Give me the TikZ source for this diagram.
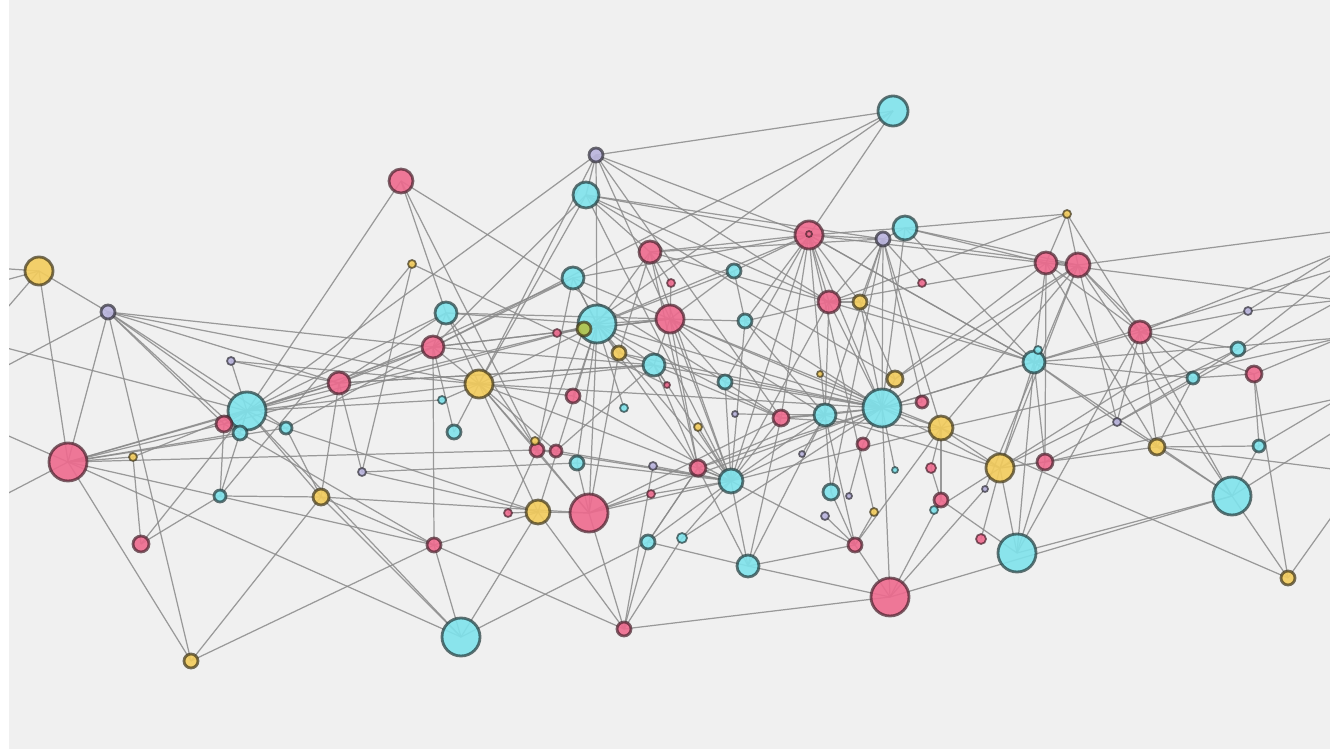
\documentclass[tikz,border=0pt]{standalone}
\usetikzlibrary{backgrounds}
\definecolor{pinkfill}{HTML}{EE6A8E}
\definecolor{cyanfill}{HTML}{7FE3EC}
\definecolor{yellfill}{HTML}{F3CC5C}
\definecolor{lavfill}{HTML}{BAB5DE}
\definecolor{olivefill}{HTML}{B5C24A}
\definecolor{edgecol}{HTML}{8A8A8A}
\definecolor{bgcol}{HTML}{F0F0F0}
\begin{document}
\begin{tikzpicture}[x=0.01cm, y=-0.01cm,
  dot/.style={circle, inner sep=0pt, minimum size=#1, line width=0.8pt, fill opacity=0.9, draw opacity=0.7},
  pk/.style={dot=#1, fill=pinkfill, draw=pinkfill!30!black},
  cy/.style={dot=#1, fill=cyanfill, draw=cyanfill!25!black},
  ye/.style={dot=#1, fill=yellfill, draw=yellfill!25!black},
  lv/.style={dot=#1, fill=lavfill, draw=lavfill!25!black},
  sm/.style={line width=0.5pt},
  edge/.style={draw=edgecol, line width=0.35pt, opacity=0.85}]
\useasboundingbox (0,0) rectangle (1330,749);
% cyan nodes
\node[cy=3.0mm] (c1) at (893,111) {};
\node[cy=2.6mm] (c2) at (586,195) {};
\node[cy=2.4mm] (c3) at (905,228) {};
\node[cy=2.2mm] (c4) at (573,278) {};
\node[cy=1.4mm] (c5) at (734,271) {};
\node[cy=2.2mm] (c6) at (446,313) {};
\node[cy=3.8mm] (c7) at (597,324) {};
\node[cy=1.4mm] (c8) at (745,321) {};
\node[cy=2.2mm] (c9) at (1034,362) {};
\node[cy=1.4mm] (c10) at (1238,349) {};
\node[cy=1.2mm] (c11) at (1193,378) {};
\node[cy=2.2mm] (c12) at (654,365) {};
\node[cy=1.4mm] (c13) at (725,382) {};
\node[cy=3.8mm] (c14) at (882,408) {};
\node[cy=3.8mm] (c15) at (247,411) {};
\node[cy=1.4mm] (c16) at (240,433) {};
\node[cy=1.2mm] (c17) at (286,428) {};
\node[cy=0.8mm, sm] (c18) at (442,400) {};
\node[cy=0.8mm, sm] (c19) at (624,408) {};
\node[cy=2.2mm] (c20) at (825,415) {};
\node[cy=1.2mm] (c21) at (1259,446) {};
\node[cy=1.4mm] (c22) at (454,432) {};
\node[cy=1.4mm] (c23) at (577,463) {};
\node[cy=2.4mm] (c24) at (731,481) {};
\node[cy=0.6mm, sm] (c25) at (895,470) {};
\node[cy=1.2mm] (c26) at (220,496) {};
\node[cy=1.6mm] (c27) at (831,492) {};
\node[cy=0.8mm, sm] (c28) at (934,510) {};
\node[cy=3.8mm] (c29) at (1232,496) {};
\node[cy=1.4mm] (c30) at (648,542) {};
\node[cy=1.0mm, sm] (c31) at (682,538) {};
\node[cy=2.2mm] (c32) at (748,566) {};
\node[cy=3.8mm] (c33) at (1017,553) {};
\node[cy=3.8mm] (c34) at (461,637) {};
\node[cy=0.8mm, sm] (c35) at (1038,350) {};
% pink nodes
\node[pk=2.4mm] (p1) at (401,181) {};
\node[pk=2.8mm] (p2) at (809,235) {};
\node[pk=2.2mm] (p3) at (1046,263) {};
\node[pk=2.4mm] (p4) at (1078,265) {};
\node[pk=2.2mm] (p5) at (650,252) {};
\node[pk=0.8mm, sm] (p6) at (671,283) {};
\node[pk=0.8mm, sm] (p7) at (922,283) {};
\node[pk=2.8mm] (p8) at (670,319) {};
\node[pk=0.8mm, sm] (p9) at (557,333) {};
\node[pk=2.2mm] (p10) at (829,302) {};
\node[pk=2.2mm] (p11) at (1140,332) {};
\node[pk=1.6mm] (p12) at (1254,374) {};
\node[pk=2.2mm] (p13) at (433,347) {};
\node[pk=2.2mm] (p14) at (339,383) {};
\node[pk=1.2mm] (p15) at (922,402) {};
\node[pk=1.6mm] (p16) at (224,424) {};
\node[pk=1.4mm] (p17) at (573,396) {};
\node[pk=1.6mm] (p18) at (781,418) {};
\node[pk=3.8mm] (p19) at (68,462) {};
\node[pk=1.4mm] (p20) at (537,450) {};
\node[pk=1.2mm] (p21) at (556,451) {};
\node[pk=1.6mm] (p22) at (698,468) {};
\node[pk=1.2mm] (p23) at (863,444) {};
\node[pk=1.6mm] (p24) at (1045,462) {};
\node[pk=1.0mm, sm] (p25) at (931,468) {};
\node[pk=1.4mm] (p26) at (941,500) {};
\node[pk=0.8mm, sm] (p27) at (651,494) {};
\node[pk=0.8mm, sm] (p28) at (508,513) {};
\node[pk=3.8mm] (p29) at (589,513) {};
\node[pk=1.0mm, sm] (p30) at (981,539) {};
\node[pk=1.6mm] (p31) at (141,544) {};
\node[pk=1.4mm] (p32) at (434,545) {};
\node[pk=1.4mm] (p33) at (855,545) {};
\node[pk=3.8mm] (p34) at (890,597) {};
\node[pk=1.4mm] (p35) at (624,629) {};
\node[pk=0.6mm, sm] (p36) at (667,385) {};
\node[pk=0.6mm, sm] (p37) at (809,234) {};
% yellow nodes
\node[ye=0.8mm, sm] (y1) at (1067,214) {};
\node[ye=2.8mm] (y2) at (39,271) {};
\node[ye=0.8mm, sm] (y3) at (412,264) {};
\node[ye=1.4mm, fill=olivefill] (y4) at (584,329) {};
\node[ye=1.4mm] (y5) at (860,302) {};
\node[ye=1.4mm] (y6) at (619,353) {};
\node[ye=2.8mm] (y7) at (479,384) {};
\node[ye=1.6mm] (y8) at (895,379) {};
\node[ye=2.4mm] (y9) at (941,428) {};
\node[ye=1.6mm] (y10) at (1157,447) {};
\node[ye=0.8mm, sm] (y11) at (133,457) {};
\node[ye=0.8mm, sm] (y12) at (535,441) {};
\node[ye=0.8mm, sm] (y13) at (698,427) {};
\node[ye=2.8mm] (y14) at (1000,468) {};
\node[ye=1.6mm] (y15) at (321,497) {};
\node[ye=0.8mm, sm] (y16) at (874,512) {};
\node[ye=2.4mm] (y17) at (538,512) {};
\node[ye=1.4mm] (y18) at (1288,578) {};
\node[ye=1.4mm] (y19) at (191,661) {};
\node[ye=0.6mm, sm] (y20) at (820,374) {};
% lavender nodes
\node[lv=1.4mm] (l1) at (596,155) {};
\node[lv=1.4mm] (l2) at (883,239) {};
\node[lv=1.4mm] (l3) at (108,312) {};
\node[lv=0.8mm, sm] (l4) at (1248,311) {};
\node[lv=0.8mm, sm] (l5) at (231,361) {};
\node[lv=0.8mm, sm] (l6) at (1117,422) {};
\node[lv=0.8mm, sm] (l7) at (362,472) {};
\node[lv=0.8mm, sm] (l8) at (653,466) {};
\node[lv=0.6mm, sm] (l9) at (735,414) {};
\node[lv=0.6mm, sm] (l10) at (802,454) {};
\node[lv=0.6mm, sm] (l11) at (849,496) {};
\node[lv=0.8mm, sm] (l12) at (825,516) {};
\node[lv=0.6mm, sm] (l13) at (985,489) {};
% free ends off the sides
\coordinate (lA) at (-5,268); \coordinate (lB) at (-5,283);
\coordinate (lC) at (-5,322); \coordinate (lD) at (-5,345);
\coordinate (lE) at (-5,372); \coordinate (lF) at (-5,430);
\coordinate (lG) at (-5,500);
\coordinate (rA) at (1340,231); \coordinate (rB) at (1340,252);
\coordinate (rC) at (1340,268); \coordinate (rD) at (1340,300);
\coordinate (rE) at (1340,338); \coordinate (rF) at (1340,398);
\coordinate (rG) at (1340,428); \coordinate (rH) at (1340,470);
\coordinate (rI) at (1340,505);
\begin{pgfonlayer}{background}
\fill[bgcol] (0,0) rectangle (1330,749);
% connectors
\foreach \b in {l1,p2,y4,p13} \draw[edge] (c1.center) -- (\b.center);
\foreach \b in {c2,c7,c15,y7,p2,p10,p8,p18} \draw[edge] (l1.center) -- (\b.center);
\foreach \b in {p13,p2,l2,y8,c24,p5,p10,y7} \draw[edge] (c2.center) -- (\b.center);
\foreach \b in {c15,c6,p20,c13} \draw[edge] (p1.center) -- (\b.center);
\foreach \b in {c26,l7,p36} \draw[edge] (y3.center) -- (\b.center);
\foreach \b in {p13,c7,p20,p14,p8} \draw[edge] (c4.center) -- (\b.center);
\foreach \b in {c7,y6,p2,c24,p6,l2,p22} \draw[edge] (p5.center) -- (\b.center);
\foreach \b in {p2,p8,c8,c7} \draw[edge] (c5.center) -- (\b.center);
\foreach \b in {p8,p2,c20,c24,p10,c14} \draw[edge] (c8.center) -- (\b.center);
\foreach \b in {c7,c12,p22,c24,p13,c14,p9,p6,c20,y9} \draw[edge] (p8.center) -- (\b.center);
\foreach \b in {c3,l2,p10,y5,c20,p18,c24,y16,c14,p3,c4,y4,c13,c9} \draw[edge] (p2.center) -- (\b.center);
\foreach \b in {c3,c14,y5,p10,p4,p15,y9,c27,p7,c20} \draw[edge] (l2.center) -- (\b.center);
\foreach \b in {p3,c9,p4,y1,c14} \draw[edge] (c3.center) -- (\b.center);
\foreach \b in {y5,c14,c20,c24,p5,c9,p3} \draw[edge] (p10.center) -- (\b.center);
\foreach \b in {y8,c9,c14} \draw[edge] (y5.center) -- (\b.center);
\foreach \b in {c4,y4,c6,y7,y6,p29,c12,c14,p18,c23,p16,c15,p17,c19,p9,p22,c24} \draw[edge] (c7.center) -- (\b.center);
\draw[edge] (y4.center) -- (p20.center);
\foreach \b in {c12,p29,c14} \draw[edge] (y6.center) -- (\b.center);
\foreach \b in {c24,p14,p18,y7,p36,c14,p22} \draw[edge] (c12.center) -- (\b.center);
\foreach \b in {p18,c24,p8,c14} \draw[edge] (c13.center) -- (\b.center);
\foreach \b in {y12,p21,c6,y7,p29,p19,p28,c24} \draw[edge] (p20.center) -- (\b.center);
\foreach \b in {y7,c24,c12} \draw[edge] (p21.center) -- (\b.center);
\foreach \b in {p29,l7,c24} \draw[edge] (c23.center) -- (\b.center);
\foreach \b in {c24,p35} \draw[edge] (l8.center) -- (\b.center);
\foreach \b in {c24,c30,c32,c14,c20} \draw[edge] (p22.center) -- (\b.center);
\draw[edge] (y13.center) -- (c24.center);
\draw[edge] (l9.center) -- (c20.center);
\foreach \b in {c24,p29} \draw[edge] (p27.center) -- (\b.center);
\draw[edge] (p17.center) -- (c24.center);
\foreach \b in {c14,c20,p18,c32,c30,c31,p33,y7,p29,y9} \draw[edge] (c24.center) -- (\b.center);
\foreach \b in {c20,p29,c32,c14,y9} \draw[edge] (p18.center) -- (\b.center);
\foreach \b in {c14,p33,c32,c27,l10,y14} \draw[edge] (c20.center) -- (\b.center);
\draw[edge] (y20.center) -- (c14.center);
\foreach \b in {y8,p15,y9,p23,p34,y14,p4,c31,rC,c9} \draw[edge] (c14.center) -- (\b.center);
\foreach \b in {p3,p4} \draw[edge] (y8.center) -- (\b.center);
\foreach \b in {p26,y14,y18,p4,p33,p25,rE} \draw[edge] (y9.center) -- (\b.center);
\draw[edge] (p23.center) -- (l11.center);
\draw[edge] (c25.center) -- (c14.center);
\draw[edge] (c27.center) -- (p33.center);
\foreach \b in {p34,c33,p25} \draw[edge] (p26.center) -- (\b.center);
\draw[edge] (y16.center) -- (p33.center);
\draw[edge] (c28.center) -- (y14.center);
\draw[edge] (l12.center) -- (p33.center);
\draw[edge] (p30.center) -- (y14.center);
\foreach \b in {p34,p4} \draw[edge] (l13.center) -- (\b.center);
\draw[edge] (c35.center) -- (c9.center);
\draw[edge] (p37.center) -- (p2.center);
% left side
\foreach \b in {lA,lB,lC,l3,p19} \draw[edge] (y2.center) -- (\b.center);
\foreach \b in {p19,lE,c15,p16,c17,y7,p14,p13,y19,c16} \draw[edge] (l3.center) -- (\b.center);
\foreach \b in {lF,lG,c15,p16,c16,p14,y19,p32,c17,c34} \draw[edge] (p19.center) -- (\b.center);
\foreach \b in {p31,c15,p19} \draw[edge] (y11.center) -- (\b.center);
\foreach \b in {p31,c15,y15,p16} \draw[edge] (c26.center) -- (\b.center);
\draw[edge] (p31.center) -- (c15.center);
\foreach \b in {y15,p32} \draw[edge] (y19.center) -- (\b.center);
\foreach \b in {c15,p14,p32,c34,c17,p29} \draw[edge] (y15.center) -- (\b.center);
\foreach \b in {p14,p13,y7,c17,p16,c16,l5,c34,c6,lD} \draw[edge] (c15.center) -- (\b.center);
\foreach \b in {p16,p32} \draw[edge] (c16.center) -- (\b.center);
\foreach \b in {y7,p14} \draw[edge] (l5.center) -- (\b.center);
\foreach \b in {p13,y17} \draw[edge] (c17.center) -- (\b.center);
\foreach \b in {c6,p13,l7,c12} \draw[edge] (p14.center) -- (\b.center);
\draw[edge] (l7.center) -- (y17.center);
\foreach \b in {p32,c6,y7,p8,c12} \draw[edge] (p13.center) -- (\b.center);
\foreach \b in {y7,p8} \draw[edge] (c6.center) -- (\b.center);
\foreach \b in {p29,c22,c18,p17,c14} \draw[edge] (y7.center) -- (\b.center);
\draw[edge] (c18.center) -- (c15.center);
\draw[edge] (c22.center) -- (p13.center);
\foreach \b in {c34,y17,p35} \draw[edge] (p32.center) -- (\b.center);
\foreach \b in {y17,c30} \draw[edge] (c34.center) -- (\b.center);
\foreach \b in {p35,p29,c7,p28,y7} \draw[edge] (y17.center) -- (\b.center);
\foreach \b in {p35,c14} \draw[edge] (p29.center) -- (\b.center);
\foreach \b in {c30,c31,p34} \draw[edge] (p35.center) -- (\b.center);
\foreach \b in {p22,c32} \draw[edge] (c30.center) -- (\b.center);
\foreach \b in {p34,p33} \draw[edge] (c32.center) -- (\b.center);
\foreach \b in {p33,c29} \draw[edge] (p34.center) -- (\b.center);
% right side
\foreach \b in {y14,p24,c29,c9,p11} \draw[edge] (c33.center) -- (\b.center);
\foreach \b in {y18,y10,p11,c9,rG,c21} \draw[edge] (c29.center) -- (\b.center);
\foreach \b in {rI,p12} \draw[edge] (y18.center) -- (\b.center);
\foreach \b in {p12,rF,y10} \draw[edge] (c21.center) -- (\b.center);
\foreach \b in {rE,c11,p11} \draw[edge] (p12.center) -- (\b.center);
\foreach \b in {rC,c11,p11,y14} \draw[edge] (c10.center) -- (\b.center);
\foreach \b in {rD,p11} \draw[edge] (l4.center) -- (\b.center);
\foreach \b in {l6,y10,c9,p4} \draw[edge] (c11.center) -- (\b.center);
\foreach \b in {p4,y10,c9,rB,l6,p3} \draw[edge] (p11.center) -- (\b.center);
\foreach \b in {p3,l6,y14,rH} \draw[edge] (y10.center) -- (\b.center);
\foreach \b in {p4,c9} \draw[edge] (l6.center) -- (\b.center);
\foreach \b in {p24,y14,p3,p2,rE} \draw[edge] (c9.center) -- (\b.center);
\foreach \b in {y14,p3,rF,rD} \draw[edge] (p24.center) -- (\b.center);
\foreach \b in {p4,rB} \draw[edge] (y14.center) -- (\b.center);
\foreach \b in {rA,y1,p3,c29} \draw[edge] (p4.center) -- (\b.center);
\foreach \b in {y1,rD} \draw[edge] (p3.center) -- (\b.center);
\foreach \b in {p11,p10} \draw[edge] (y1.center) -- (\b.center);
\end{pgfonlayer}
\fill[white] (0,0) rectangle (9,749);
\end{tikzpicture}
\end{document}
